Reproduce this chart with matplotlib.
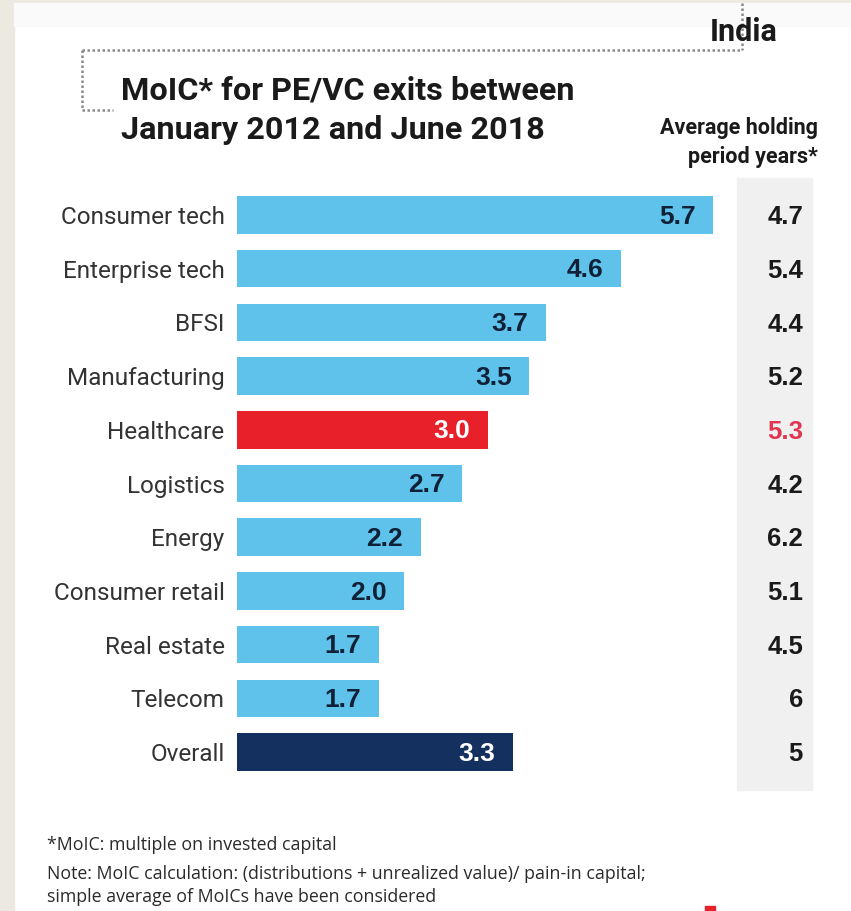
import matplotlib
matplotlib.use("Agg")
import matplotlib.pyplot as plt
from matplotlib.patches import Rectangle
from matplotlib.lines import Line2D
import matplotlib.transforms as mtransforms

categories = ["Consumer tech", "Enterprise tech", "BFSI", "Manufacturing", "Healthcare",
              "Logistics", "Energy", "Consumer retail", "Real estate", "Telecom", "Overall"]
moic = [5.7, 4.6, 3.7, 3.5, 3.0, 2.7, 2.2, 2.0, 1.7, 1.7, 3.3]
holding_labels = ["4.7", "5.4", "4.4", "5.2", "5.3", "4.2", "6.2", "5.1", "4.5", "6", "5"]

LIGHT = "#5ec2ea"
RED = "#e8202a"
NAVY = "#13305e"
DARK = "#0f2037"
colors = [RED if c == "Healthcare" else NAVY if c == "Overall" else LIGHT for c in categories]
label_colors = ["white" if c in ("Healthcare", "Overall") else DARK for c in categories]
hold_colors = ["#e0364f" if c == "Healthcare" else "#1a1a1a" for c in categories]

W, H = 851, 911
fig = plt.figure(figsize=(W / 100, H / 100), dpi=100)
fig.patch.set_facecolor("white")

def px(x, y):
    return x / W, 1 - y / H

# background strips
fig.patches.append(Rectangle((0, 0), 14 / W, 1, transform=fig.transFigure, color="#ece9e1", zorder=-2))
fig.patches.append(Rectangle((0, 1 - 3 / H), 1, 3 / H, transform=fig.transFigure, color="#ece9e1", zorder=-2))
fig.patches.append(Rectangle((14 / W, 1 - 26 / H), 1, 23 / H, transform=fig.transFigure, color="#fafafa", zorder=-2))

# grey column
fig.patches.append(Rectangle(px(737, 790), 75 / W, 612 / H, transform=fig.transFigure,
                             color="#f0f0f0", zorder=-2))

# dotted frame
dot = dict(color="#8a8a8a", linestyle=(0, (1, 1.0)), linewidth=1.8, transform=fig.transFigure)
fig.lines.append(Line2D([82 / W, 742 / W], [1 - 50 / H, 1 - 50 / H], **dot))
fig.lines.append(Line2D([82 / W, 82 / W], [1 - 50 / H, 1 - 110 / H], **dot))
fig.lines.append(Line2D([82 / W, 113 / W], [1 - 110 / H, 1 - 110 / H], **dot))
fig.lines.append(Line2D([742 / W, 742 / W], [1 - 3 / H, 1 - 50 / H], **dot))

# texts
fig.text(*px(778, 32), "India", ha="right", va="center", fontsize=22, fontweight="bold",
         family="Roboto", color="#1a1a1a")
fig.text(*px(121, 90), "MoIC* for PE/VC exits between", ha="left", va="center", fontsize=23.3,
         fontweight="bold", family="Roboto", color="#1a1a1a")
fig.text(*px(121, 130), "January 2012 and June 2018", ha="left", va="center", fontsize=23.3,
         fontweight="bold", family="Roboto", color="#1a1a1a")
fig.text(*px(818, 128), "Average holding", ha="right", va="center", fontsize=15.5,
         fontweight="bold", family="Roboto", color="#1a1a1a")
fig.text(*px(818, 157), "period years*", ha="right", va="center", fontsize=15.5,
         fontweight="bold", family="Roboto", color="#1a1a1a")

fig.text(*px(47, 845), "*MoIC: multiple on invested capital", ha="left", va="center",
         fontsize=12.8, family="Open Sans", color="#2a2a2a")
fig.text(*px(47, 874), "Note: MoIC calculation: (distributions + unrealized value)/ pain-in capital;",
         ha="left", va="center", fontsize=12.8, family="Open Sans", color="#2a2a2a")
fig.text(*px(47, 897), "simple average of MoICs have been considered", ha="left", va="center",
         fontsize=12.8, family="Open Sans", color="#2a2a2a")
fig.patches.append(Rectangle(px(705, 911), 10 / W, 5 / H, transform=fig.transFigure,
                             color="#e8202a", zorder=1))

# bar axes
ax_left, ax_right = 237, 737
ax_top, ax_bottom = 188.15, 778.85
ax = fig.add_axes([ax_left / W, 1 - ax_bottom / H, (ax_right - ax_left) / W, (ax_bottom - ax_top) / H])
ax.set_facecolor("none")
n = len(categories)
ypos = list(range(n))
ax.barh(ypos, moic, height=0.70, color=colors)
ax.set_xlim(0, (ax_right - ax_left) / 83.5)
ax.set_ylim(n - 0.5, -0.5)
for s in ax.spines.values():
    s.set_visible(False)
ax.set_xticks([])
ax.set_yticks(ypos)
ax.set_yticklabels(categories, fontsize=17.5, family="Roboto", color="#333333")
ax.tick_params(axis="y", length=0, pad=9)

for i, (v, lc) in enumerate(zip(moic, label_colors)):
    ax.text(v - 0.21, i + 0.03, f"{v:.1f}", ha="right", va="center", fontsize=19,
            fontweight="bold", family="Liberation Sans", color=lc)

trans = mtransforms.blended_transform_factory(fig.transFigure, ax.transData)
for i, (t, c) in enumerate(zip(holding_labels, hold_colors)):
    ax.text(803 / W, i + 0.04, t, transform=trans, ha="right", va="center", fontsize=18.5,
            fontweight="bold", family="Liberation Sans", color=c, clip_on=False)

fig.savefig("out.png", dpi=100)
